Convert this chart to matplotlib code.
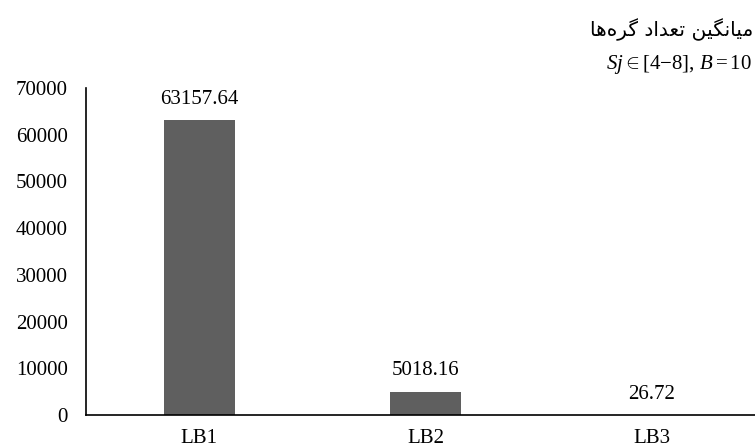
import matplotlib.pyplot as plt

plt.rcParams["font.family"] = ["Liberation Serif", "DejaVu Serif"]
plt.rcParams["mathtext.fontset"] = "custom"
plt.rcParams["mathtext.rm"] = "Liberation Serif"
plt.rcParams["mathtext.it"] = "Liberation Serif:italic"

categories = ["LB1", "LB2", "LB3"]
values = [63157.64, 5018.16, 26.72]
yticks = [0, 10000, 20000, 30000, 40000, 50000, 60000, 70000]

# Persian title built from presentation forms, word order as drawn in the reference
w1 = "\uFEE6\uFEF4\uFB95\uFEE7\uFE8E\uFEF4\uFEE3"  # میانگین
w2 = "\uFEA9\uFE8D\uFEAA\uFECC\uFE97"              # تعداد
w3 = "\uFE8E\uFEEB\uFEE9\uFEAE\uFB94"              # گره‌ها
title_fa = w3 + " " + w2 + " " + w1
subtitle = r"$Sj{\in}[4{-}8],\,B{=}10$"

fig = plt.figure(figsize=(7.55, 4.48), dpi=100)
ax = fig.add_axes([86 / 755, 1 - 415 / 448, 679 / 755, (415 - 88) / 448])

x = list(range(len(categories)))
bars = ax.bar(x, values, width=0.315, color="#5f5f5f", edgecolor="none")
ax.bar_label(bars, labels=[f"{v:.2f}" for v in values], padding=8, fontsize=15)

ax.set_xlim(-0.5, 2.5)
ax.set_ylim(0, 70000)
ax.set_yticks(yticks)
ax.set_yticklabels([str(t) for t in yticks])
ax.set_xticks(x)
ax.set_xticklabels(categories)
ax.tick_params(axis="both", length=0, labelsize=15)
ax.tick_params(axis="y", pad=13)
ax.tick_params(axis="x", pad=10)

for s in ["top", "right"]:
    ax.spines[s].set_visible(False)
for s in ["left", "bottom"]:
    ax.spines[s].set_linewidth(1.2)
    ax.spines[s].set_color("black")

fig.text(753 / 755, 1 - 30 / 448, title_fa, ha="right", va="center",
         fontsize=14.5, family="DejaVu Sans")
fig.text(752 / 755, 1 - 64 / 448, subtitle, ha="right", va="center", fontsize=15)

fig.savefig("out.png", dpi=100)
